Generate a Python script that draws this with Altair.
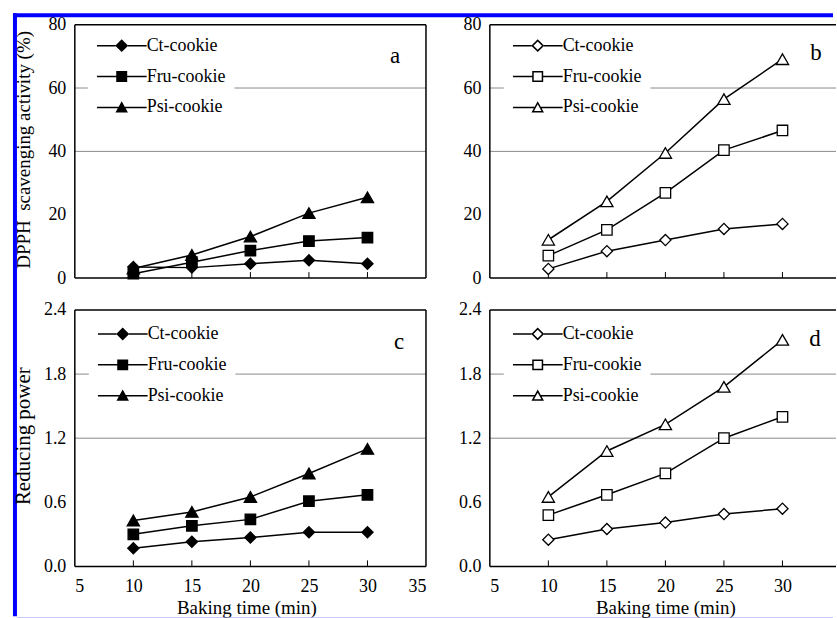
import altair as alt
import pandas as pd

# ---------------- data ----------------
times = [10, 15, 20, 25, 30]
series = ["Ct-cookie", "Fru-cookie", "Psi-cookie"]

a_ct = [3.5, 3.3, 4.5, 5.6, 4.5]
a_fru = [1.4, 5.0, 8.7, 11.7, 12.8]
a_psi = [3.0, 7.3, 13.1, 20.5, 25.5]

b_ct = [2.9, 8.5, 12.0, 15.5, 17.1]
b_fru = [7.1, 15.2, 26.9, 40.4, 46.6]
b_psi = [12.1, 24.2, 39.5, 56.5, 69.1]

c_ct = [0.17, 0.23, 0.27, 0.32, 0.32]
c_fru = [0.30, 0.38, 0.44, 0.61, 0.67]
c_psi = [0.43, 0.51, 0.65, 0.87, 1.10]

d_ct = [0.25, 0.35, 0.41, 0.49, 0.54]
d_fru = [0.48, 0.67, 0.87, 1.20, 1.40]
d_psi = [0.65, 1.08, 1.33, 1.68, 2.12]

x_ticks = [5, 10, 15, 20, 25, 30, 35]
inner_ticks = [10, 15, 20, 25, 30]
dpph_ticks = [0, 20, 40, 60, 80]
dpph_grid = [40, 60]
rp_ticks = [0.0, 0.6, 1.2, 1.8, 2.4]
rp_grid = [1.2, 1.8]

FONT = "Liberation Serif"
PX_PER_MIN = 352 / 30.0

# legend glyphs: line segment + marker, drawn as filled shapes (unit box -1..1)
BAR_L = "M-1,-0.03H-{e}V0.03H-1Z"
BAR_R = "M{e},-0.03H1V0.03H{e}Z"
DIA_OUT = "M0,-0.26L0.26,0L0,0.26L-0.26,0Z"
DIA_IN = "M0,-0.17L-0.17,0L0,0.17L0.17,0Z"
SQ_OUT = "M-0.22,-0.22H0.22V0.22H-0.22Z"
SQ_IN = "M-0.16,-0.16V0.16H0.16V-0.16Z"
TRI_OUT = "M0,-0.25L0.25,0.2L-0.25,0.2Z"
TRI_IN = "M0,-0.126L-0.148,0.14L0.148,0.14Z"


def bars(e):
    return BAR_L.format(e=e) + BAR_R.format(e=e)


LEGEND_FILLED = [
    bars(0.25) + DIA_OUT,
    bars(0.21) + SQ_OUT,
    bars(0.13) + TRI_OUT,
]
LEGEND_OPEN = [
    bars(0.25) + DIA_OUT + DIA_IN,
    bars(0.21) + SQ_OUT + SQ_IN,
    bars(0.13) + TRI_OUT + TRI_IN,
]
POINT_SHAPES = ["diamond", "square", "triangle-up"]
POINT_SIZES = [125, 110, 150]


def make_df(ct, fru, psi):
    rows = []
    for name, vals in zip(series, [ct, fru, psi]):
        for t, v in zip(times, vals):
            rows.append({"time": t, "series": name, "value": v})
    return pd.DataFrame(rows)


def rule(**enc):
    return alt.Chart(pd.DataFrame({"k": [0]})).mark_rule(
        color=enc.pop("color", "black"),
        strokeWidth=enc.pop("sw", 1.5)).encode(**enc)


def panel(df, width, height, ymax, yvals, fmt, grid_vals, filled, letter,
          letter_xy, legend_xy, right_border=True, ytitle=None, ytitle_size=19,
          ytitle_y=None, show_x=False, xtitle_x=None, extras=None):
    xmax = 5 + width / PX_PER_MIN
    xscale = alt.Scale(domain=[5, xmax], nice=False)
    yscale = alt.Scale(domain=[0, ymax], nice=False)

    if show_x:
        xaxis = alt.Axis(values=x_ticks, format="d", ticks=False, grid=False,
                         domain=False, labelFont=FONT, labelFontSize=18,
                         labelColor="black", labelPadding=11,
                         title="Baking time (min)", titleFont=FONT,
                         titleFontSize=19, titleFontWeight="normal",
                         titleColor="black", titlePadding=3,
                         titleX=xtitle_x)
    else:
        xaxis = None

    yaxis_kw = dict(values=yvals, format=fmt, ticks=False, grid=False,
                    domain=False, labelFont=FONT, labelFontSize=18,
                    labelColor="black", labelPadding=9)
    if ytitle:
        yaxis = alt.Axis(title=ytitle, titleFont=FONT, titleFontSize=ytitle_size,
                         titleFontWeight="normal", titleColor="black",
                         titleX=-45, titleY=ytitle_y, titleBaseline="alphabetic",
                         **yaxis_kw)
    else:
        yaxis = alt.Axis(title=None, **yaxis_kw)

    X = lambda f: alt.X(f, scale=xscale, axis=xaxis)
    Y = lambda f: alt.Y(f, scale=yscale, axis=yaxis)

    grid = alt.Chart(pd.DataFrame({"g": grid_vals})).mark_rule(
        color="#8a8a8a", strokeWidth=1).encode(
        y=Y("g:Q"), x=alt.value(0), x2=alt.value(width))

    ticks = alt.Chart(pd.DataFrame({"t": inner_ticks})).mark_rule(
        color="black", strokeWidth=1).encode(
        x=X("t:Q"), y=alt.value(height - 6), y2=alt.value(height))

    base = alt.Chart(df)
    lines = base.mark_line(color="black", strokeWidth=1.5).encode(
        x=X("time:Q"), y=Y("value:Q"), detail="series:N")

    fillc = "black" if filled else "white"
    pts = []
    for name, shp, sz in zip(series, POINT_SHAPES, POINT_SIZES):
        pts.append(base.transform_filter(alt.datum.series == name).mark_point(
            filled=True, fill=fillc, stroke="black", strokeWidth=1.3,
            opacity=1, shape=shp, size=sz).encode(
            x=X("time:Q"), y=Y("value:Q")))

    leg = base.transform_filter("false").mark_point(
        filled=True, fill="black", opacity=1).encode(
        x=X("time:Q"), y=Y("value:Q"),
        shape=alt.Shape("series:N",
                        scale=alt.Scale(domain=series,
                                        range=LEGEND_FILLED if filled else LEGEND_OPEN),
                        legend=alt.Legend(
                            title=None, orient="none",
                            legendX=legend_xy[0], legendY=legend_xy[1],
                            padding=9, fillColor="white",
                            labelFont=FONT, labelFontSize=18, labelColor="black",
                            labelOffset=0, symbolSize=2500,
                            symbolStrokeWidth=0, symbolOpacity=1,
                            clipHeight=20, rowPadding=11)))

    txt = alt.Chart(pd.DataFrame({"k": [letter]})).mark_text(
        font=FONT, fontSize=23, color="black", align="center",
        baseline="middle").encode(x=alt.value(letter_xy[0]),
                                  y=alt.value(letter_xy[1]), text="k:N")

    borders = [
        rule(x=alt.value(0), x2=alt.value(width), y=alt.value(0)),
        rule(x=alt.value(0), x2=alt.value(width), y=alt.value(height)),
        rule(x=alt.value(0), y=alt.value(0), y2=alt.value(height)),
    ]
    if right_border:
        borders.append(rule(x=alt.value(width), y=alt.value(0),
                            y2=alt.value(height)))

    layers = [grid, ticks, lines] + pts + [leg] + borders + [txt]
    if extras:
        layers += extras
    return alt.layer(*layers).properties(width=width, height=height)


H_TOP = 254
H_BOT = 257
W_L = 352
W_R = 347

blue_top = rule(color="#0000ff", sw=4, x=alt.value(-62), x2=alt.value(760),
                y=alt.value(-9.5))
blue_left = rule(color="#0000ff", sw=4, x=alt.value(-60), y=alt.value(-11.5),
                 y2=alt.value(593))
blue_bottom = rule(color="#8f8fff", sw=1.5, x=alt.value(-58), x2=alt.value(760),
                   y=alt.value(309))

pa = panel(make_df(a_ct, a_fru, a_psi), W_L, H_TOP, 80, dpph_ticks, "d",
           dpph_grid, True, "a", (321, 31), (13, 2),
           ytitle="DPPH\u00a0 scavenging activity (%)", ytitle_size=19,
           ytitle_y=125, extras=[blue_top, blue_left])
pb = panel(make_df(b_ct, b_fru, b_psi), W_R, H_TOP, 80, dpph_ticks, "d",
           dpph_grid, False, "b", (327, 28), (14, 2), right_border=False)
pc = panel(make_df(c_ct, c_fru, c_psi), W_L, H_BOT, 2.4, rp_ticks, ".1f",
           rp_grid, True, "c", (325, 32), (14, 5),
           ytitle="Reducing power", ytitle_size=21, ytitle_y=126,
           show_x=True, xtitle_x=172, extras=[blue_bottom])
pd_ = panel(make_df(d_ct, d_fru, d_psi), W_R, H_BOT, 2.4, rp_ticks, ".1f",
            rp_grid, False, "d", (326, 29), (14, 5), right_border=False,
            show_x=True, xtitle_x=176)

chart = alt.concat(pa, pb, pc, pd_, columns=2, bounds="flush",
                   spacing={"row": 32, "column": 64}).resolve_scale(
    shape="independent").resolve_legend(shape="independent").properties(
    padding={"left": 11, "top": 10, "right": 0, "bottom": 0},
    background="white").configure_view(strokeWidth=0)

chart.save("out.html", embed_options={"renderer": "svg", "actions": False})
